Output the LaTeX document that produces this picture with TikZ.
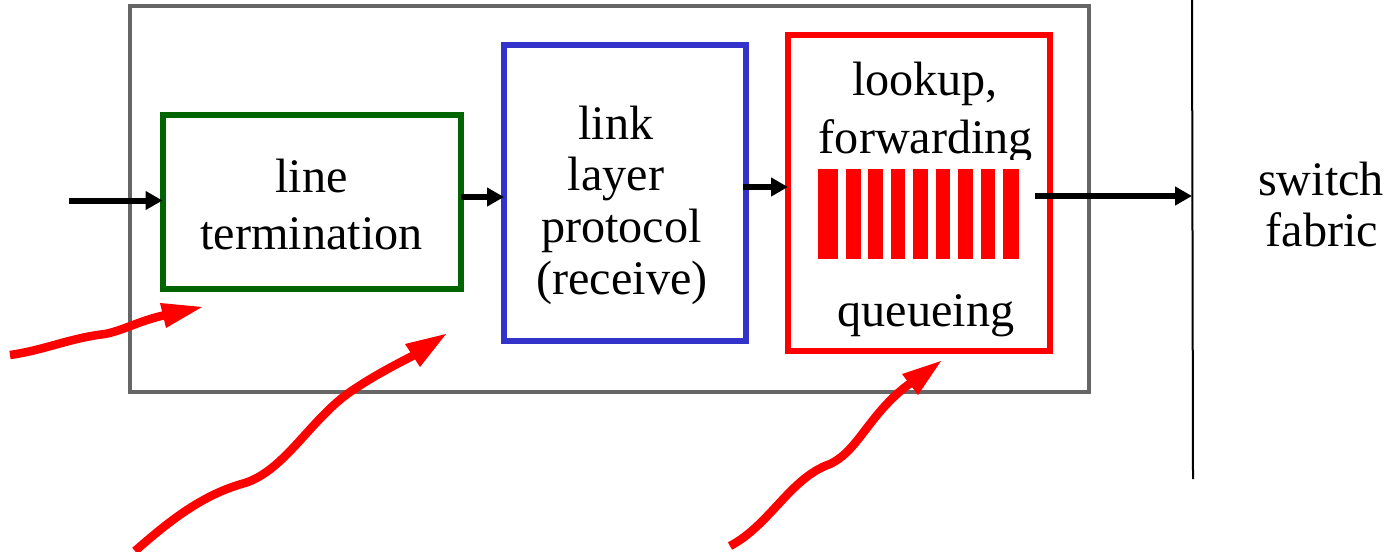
\documentclass[tikz,border=0pt]{standalone}
\usepackage{fontspec}
\setmainfont{Liberation Serif}
\usetikzlibrary{arrows.meta}
\definecolor{mygreen}{RGB}{0,100,0}
\definecolor{myblue}{RGB}{51,51,204}
\definecolor{mygray}{RGB}{102,102,102}
\tikzset{
  x=1pt,y=-1pt,
  lbl/.style={font=\fontsize{48.2}{48.2}\selectfont,inner sep=0pt,anchor=center,text=black},
  boxx/.style={inner sep=0pt,outer sep=0pt,anchor=north west},
  flow/.style={draw=black,line width=6pt,-{Triangle[length=17pt,width=18pt]},shorten >=0pt},
  wavy/.style={draw=red,line width=8.5pt,line cap=butt},
  redtip/.style={fill=red,draw=none}
}
\begin{document}
\begin{tikzpicture}
\useasboundingbox (0,0) rectangle (1396,551);
\node[boxx,draw=mygray,line width=4pt,minimum width=959pt,minimum height=386pt] (outer) at (130,6) {};
\node[boxx,draw=mygreen,line width=6pt,minimum width=298pt,minimum height=174pt] (lt) at (162.5,114.5) {};
\node[boxx,draw=myblue,line width=6pt,minimum width=242pt,minimum height=295pt] (ll) at (504,45.5) {};
\node[boxx,draw=red,line width=6pt,minimum width=262pt,minimum height=316pt] (lk) at (788,35) {};
\node[lbl] (t1) at (311.5,176) {line};
\node[lbl] (t2) at (311.5,234) {termination};
\node[lbl] (t3) at (616,123) {link};
\node[lbl] (t4) at (616,179) {layer};
\node[lbl] (t5) at (621.5,231) {protocol};
\node[lbl] (t6) at (622,283) {(receive)};
\node[lbl] (t7) at (925,84) {lookup,};
\node[lbl] (t8) at (926,142) {forwarding};
\node[lbl] (t9) at (926,316) {queueing};
\node[lbl] (t10) at (1321,179) {switch};
\node[lbl] (t11) at (1322,230) {fabric};
\fill[white] (815,160) rectangle (1035,169);
\foreach \xa/\xb in {818/838,846/860.5,868/883,890.7/905,913/927.7,935.7/950,958/973,981/995,1003/1019}{
  \fill[red] (\xa,168.7) rectangle (\xb,259);
}
\coordinate (fabtop) at (1192,0);
\coordinate (fabbot) at (1193,479);
\draw[line width=2pt,black] (fabtop) -- (fabbot);
\coordinate (in) at (69,200.5);
\coordinate (a2) at (461,197);
\coordinate (a3) at (743,187);
\coordinate (outq) at (1035,196);
\coordinate (fabin) at (1192,196);
\draw[flow] (in) -- (lt.west |- in);
\draw[flow] (a2) -- (ll.west |- a2);
\draw[flow] (a3) -- (lk.west |- a3);
\draw[flow] (outq) -- (fabin);
\coordinate (w1s) at (10,355);
\coordinate (w1e) at (170,314);
\draw[wavy] (w1s) .. controls (45,350) and (70,338) .. (105,334) .. controls (125,330) and (140,320) .. (w1e);
\fill[redtip] (202,307) -- (166,328) -- (160,303) -- cycle;
\coordinate (w2s) at (135,551);
\coordinate (w2e) at (420,352);
\draw[wavy] (w2s) .. controls (165,525) and (200,495) .. (245,483) .. controls (285,470) and (310,420) .. (350,392) .. controls (375,375) and (395,365) .. (w2e);
\fill[redtip] (446,334) -- (420,367) -- (405,344) -- cycle;
\coordinate (w3s) at (730,546);
\coordinate (w3e) at (915,380);
\draw[wavy] (w3s) .. controls (770,525) and (790,478) .. (830,464) .. controls (860,450) and (870,410) .. (w3e);
\fill[redtip] (941,361) -- (918,395) -- (902,374) -- cycle;
\end{tikzpicture}
\end{document}
